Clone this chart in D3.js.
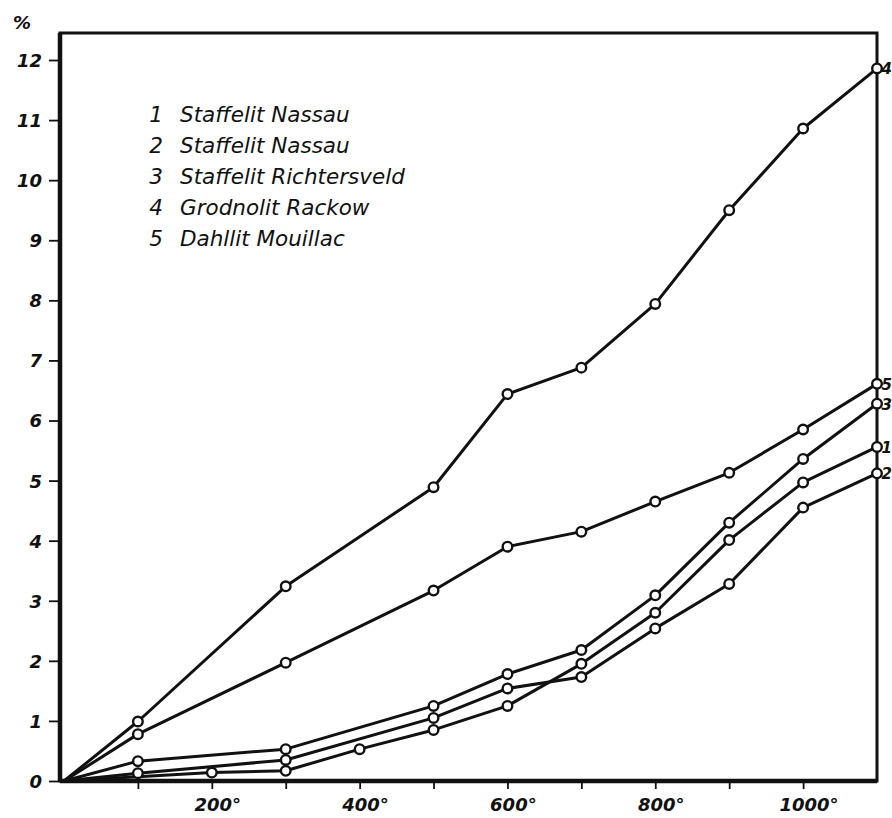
<!DOCTYPE html>
<html>
<head>
<meta charset="utf-8">
<script src="https://cdn.jsdelivr.net/npm/d3@7"></script>
<style>
  html, body { margin: 0; padding: 0; background: #fff; overflow: hidden; }
  svg { display: block; }
  text { font-family: "DejaVu Sans", sans-serif; font-style: italic; fill: #111; }
</style>
</head>
<body>
<svg id="chart" width="892" height="818"></svg>
<script>
// ---- Data ----
const temperatures = [0, 100, 200, 300, 400, 500, 600, 700, 800, 900, 1000, 1100];
const xTickValues = [100, 200, 300, 400, 500, 600, 700, 800, 900, 1000];
const xTickLabels = [200, 400, 600, 800, 1000];
const yTickValues = [0, 1, 2, 3, 4, 5, 6, 7, 8, 9, 10, 11, 12];

const legendLabels = [
  "Staffelit Nassau",
  "Staffelit Nassau",
  "Staffelit Richtersveld",
  "Grodnolit Rackow",
  "Dahllit Mouillac"
];
const seriesIds = ["1", "2", "3", "4", "5"];

// each series: [temperature, percent]
const series1 = [[0,0],[200,0.14],[300,0.17],[400,0.53],[500,0.85],[600,1.25],[700,1.95],[800,2.80],[900,4.01],[1000,4.97],[1100,5.56]];
const series2 = [[0,0],[100,0.13],[300,0.35],[500,1.05],[600,1.54],[700,1.73],[800,2.54],[900,3.28],[1000,4.55],[1100,5.12]];
const series3 = [[0,0],[100,0.33],[300,0.53],[500,1.25],[600,1.78],[700,2.18],[800,3.09],[900,4.30],[1000,5.36],[1100,6.28]];
const series4 = [[0,0],[100,0.99],[300,3.24],[500,4.89],[600,6.44],[700,6.88],[800,7.94],[900,9.50],[1000,10.86],[1100,11.86]];
const series5 = [[0,0],[100,0.78],[300,1.97],[500,3.17],[600,3.90],[700,4.15],[800,4.65],[900,5.13],[1000,5.85],[1100,6.61]];
const allSeries = [series1, series2, series3, series4, series5];

// ---- Layout ----
const svg = d3.select("#chart");
const x = d3.scaleLinear().domain([0, 1100]).range([64, 877]);
const y = d3.scaleLinear().domain([0, 12]).range([781, 60]);
const yTop = 33;

// y axis ticks
const yAxis = d3.axisLeft(y).tickValues(yTickValues).tickSize(11).tickSizeOuter(0).tickFormat(d3.format("d"));
const gy = svg.append("g").attr("transform", `translate(${x(0) - 4},0)`).call(yAxis);
gy.select(".domain").remove();
gy.selectAll(".tick line").attr("stroke", "#111").attr("stroke-width", 1.8);
gy.selectAll(".tick text")
  .attr("x", -18)
  .attr("dy", "0.36em")
  .style("font-size", "18px").style("font-weight", "bold").style("font-style", "italic")
  .attr("fill", "#111");

// x axis ticks
const xAxis = d3.axisBottom(x).tickValues(xTickValues).tickSize(8).tickSizeOuter(0)
  .tickFormat(d => xTickLabels.includes(d) ? d + "°" : "");
const gx = svg.append("g").attr("transform", `translate(0,${y(0)})`).call(xAxis);
gx.select(".domain").remove();
gx.selectAll(".tick line").attr("stroke", "#111").attr("stroke-width", 1.8);
gx.selectAll(".tick text")
  .attr("y", 17)
  .attr("dx", "0.3em")
  .attr("dy", "0.71em")
  .style("font-size", "18px").style("font-weight", "bold").style("font-style", "italic")
  .attr("fill", "#111");

// frame
svg.append("path")
  .attr("d", `M${x(0)-4},${y(0)} L${x(0)-4},${yTop} L${x(1100)},${yTop} L${x(1100)},${y(0)} Z`)
  .attr("fill", "none").attr("stroke", "#111").attr("stroke-width", 3);
svg.append("line")
  .attr("x1", x(0)-4).attr("x2", x(0)-4).attr("y1", yTop).attr("y2", y(0))
  .attr("stroke", "#111").attr("stroke-width", 4.5);
svg.append("line")
  .attr("x1", x(0)-4).attr("x2", x(1100)).attr("y1", y(0)).attr("y2", y(0))
  .attr("stroke", "#111").attr("stroke-width", 4.5);

// percent sign
svg.append("text").attr("x", 22).attr("y", 29).attr("text-anchor", "middle")
  .style("font-size", "18px").style("font-weight", "bold").text("%");

// lines
const line = d3.line().x(d => x(d[0])).y(d => y(d[1]));
allSeries.forEach(s => {
  svg.append("path").datum(s).attr("d", line)
    .attr("fill", "none").attr("stroke", "#111").attr("stroke-width", 3)
    .attr("stroke-linejoin", "round");
});
allSeries.forEach(s => {
  svg.append("g").selectAll("circle").data(s.filter(d => d[0] > 0)).join("circle")
    .attr("cx", d => x(d[0])).attr("cy", d => y(d[1])).attr("r", 4.8)
    .attr("fill", "#fff").attr("stroke", "#111").attr("stroke-width", 2.4);
});

// end labels (kept inside the page width)
allSeries.forEach((s, i) => {
  const last = s[s.length - 1];
  svg.append("text").attr("x", x(last[0]) + 4.5).attr("y", y(last[1]) + 6)
    .style("font-size", "15px").style("font-weight", "bold").text(seriesIds[i]);
});

// legend
const legend = svg.append("g");
legendLabels.forEach((lab, i) => {
  const by = 122 + i * 31;
  legend.append("text").attr("x", 163).attr("y", by).attr("text-anchor", "end")
    .style("font-size", "21.5px").text(seriesIds[i]);
  legend.append("text").attr("x", 180).attr("y", by)
    .style("font-size", "21.5px").text(lab);
});
</script>
</body>
</html>
